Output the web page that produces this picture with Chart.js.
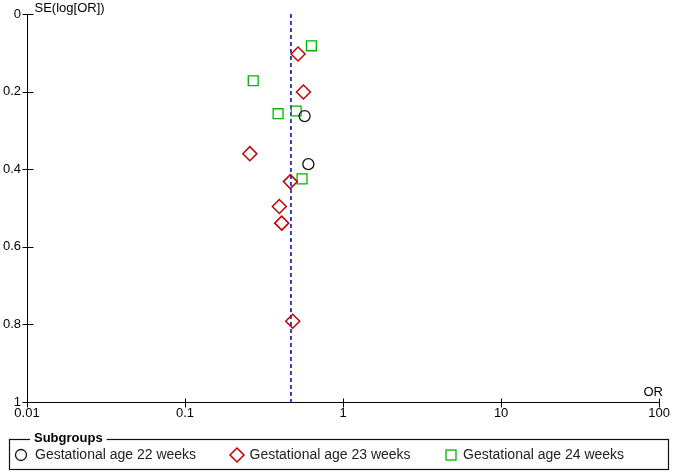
<!DOCTYPE html>
<html>
<head>
<meta charset="utf-8">
<script src="https://cdn.jsdelivr.net/npm/chart.js@4/dist/chart.umd.min.js"></script>
<style>
html,body{margin:0;padding:0;background:#fff;}
#wrap{width:674px;height:472px;}
</style>
</head>
<body>
<div id="wrap"><canvas id="c" width="674" height="472"></canvas></div>
<script>
// ---- data ----
const pooledOR = 0.468;
const seriesNames = ["Gestational age 22 weeks", "Gestational age 23 weeks", "Gestational age 24 weeks"];
const ga22OR = [0.571, 0.603];
const ga22SE = [0.263, 0.387];
const ga23OR = [0.519, 0.561, 0.257, 0.464, 0.395, 0.409, 0.480];
const ga23SE = [0.103, 0.201, 0.360, 0.432, 0.496, 0.539, 0.792];
const ga24OR = [0.630, 0.270, 0.388, 0.505, 0.550];
const ga24SE = [0.082, 0.172, 0.257, 0.250, 0.425];
const xTicks = [0.01, 0.1, 1, 10, 100];
const yTicks = [0, 0.2, 0.4, 0.6, 0.8, 1];
const xTitle = "OR";
const yTitle = "SE(log[OR])";
const legendTitle = "Subgroups";

const colors = ["#111111", "#c00000", "#00b400"];
const pts = (xs, ys) => xs.map((x, i) => ({x: x, y: ys[i]}));
const FONT = "'Liberation Sans', Arial, sans-serif";

const decor = {
  id: 'decor',
  afterDraw(chart) {
    const ctx = chart.ctx;
    const xs = chart.scales.x, ys = chart.scales.y;
    const ax = Math.round(ys.right) + 0.5;
    const ay = Math.round(xs.top) + 0.5;
    ctx.save();
    ctx.strokeStyle = '#000';
    ctx.lineWidth = 1;
    // tick marks crossing the axes
    ctx.beginPath();
    xTicks.forEach(v => {
      const px = Math.round(xs.getPixelForValue(v)) + 0.5;
      ctx.moveTo(px, ay - 4); ctx.lineTo(px, ay + 5);
    });
    yTicks.forEach(v => {
      const py = Math.round(ys.getPixelForValue(v)) + 0.5;
      ctx.moveTo(ax - 5, py); ctx.lineTo(ax + 6, py);
    });
    ctx.stroke();
    // axis titles
    ctx.fillStyle = '#000';
    ctx.font = "13px " + FONT;
    ctx.textBaseline = 'middle';
    ctx.textAlign = 'left';
    ctx.fillText(yTitle, ax + 7, 8);
    ctx.textAlign = 'center';
    ctx.fillText(xTitle, xs.right - 6, ay - 10);

    // legend box
    const bx = 9.5, by = 439.5, bw = 659, bh = 30;
    ctx.lineWidth = 1.2;
    ctx.strokeStyle = '#111';
    ctx.strokeRect(bx, by, bw, bh);
    ctx.font = "bold 13px " + FONT;
    const tw = ctx.measureText(legendTitle).width;
    ctx.fillStyle = '#fff';
    ctx.fillRect(30, by - 3, tw + 8, 6);
    ctx.fillStyle = '#000';
    ctx.textAlign = 'left';
    ctx.fillText(legendTitle, 34, by - 1);

    const cy = 455;
    const items = [
      {mx: 21, tx: 35},
      {mx: 237, tx: 249.5},
      {mx: 451, tx: 463}
    ];
    // circle
    ctx.lineWidth = 1.3;
    ctx.strokeStyle = colors[0];
    ctx.beginPath(); ctx.arc(items[0].mx, cy, 5.5, 0, Math.PI * 2); ctx.stroke();
    // diamond
    ctx.strokeStyle = colors[1];
    ctx.lineWidth = 1.5;
    ctx.beginPath();
    ctx.moveTo(items[1].mx, cy - 7); ctx.lineTo(items[1].mx + 7, cy);
    ctx.lineTo(items[1].mx, cy + 7); ctx.lineTo(items[1].mx - 7, cy);
    ctx.closePath(); ctx.stroke();
    // square
    ctx.strokeStyle = colors[2];
    ctx.lineWidth = 1.3;
    ctx.strokeRect(items[2].mx - 5, cy - 5, 10, 10);

    ctx.font = "14px " + FONT;
    ctx.fillStyle = '#222';
    items.forEach((it, i) => ctx.fillText(seriesNames[i], it.tx, cy + 0.5));
    ctx.restore();
  }
};

new Chart(document.getElementById('c'), {
  type: 'scatter',
  data: {
    datasets: [
      {label: 'pooled', data: [{x: pooledOR, y: 0}, {x: pooledOR, y: 1}], showLine: true,
       borderColor: '#1010c0', borderWidth: 1.6, borderDash: [4, 3], pointRadius: 0, order: 5},
      {label: seriesNames[0], data: pts(ga22OR, ga22SE), pointStyle: 'circle', pointRadius: 5.5,
       borderColor: colors[0], backgroundColor: 'rgba(0,0,0,0)', borderWidth: 1.3},
      {label: seriesNames[1], data: pts(ga23OR, ga23SE), pointStyle: 'rectRot', pointRadius: 7,
       borderColor: colors[1], backgroundColor: 'rgba(0,0,0,0)', borderWidth: 1.5},
      {label: seriesNames[2], data: pts(ga24OR, ga24SE), pointStyle: 'rect', pointRadius: 7,
       borderColor: colors[2], backgroundColor: 'rgba(0,0,0,0)', borderWidth: 1.3}
    ]
  },
  options: {
    responsive: false,
    animation: false,
    devicePixelRatio: 1,
    layout: {padding: {top: 14, right: 14, left: 0, bottom: 0}},
    plugins: {legend: {display: false}, tooltip: {enabled: false}},
    scales: {
      x: {
        type: 'logarithmic', min: 0.01, max: 100,
        afterBuildTicks: s => { s.ticks = xTicks.map(v => ({value: v})); },
        afterFit: s => { s.height = 70; },
        grid: {display: false, drawTicks: false},
        border: {display: true, color: '#000', width: 1},
        ticks: {color: '#000', padding: 4, font: {size: 13, family: FONT}, maxRotation: 0,
                callback: v => String(v)}
      },
      y: {
        type: 'linear', min: 0, max: 1, reverse: true,
        afterBuildTicks: s => { s.ticks = yTicks.map(v => ({value: v})); },
        afterFit: s => { s.width = 27; },
        grid: {display: false, drawTicks: false},
        border: {display: true, color: '#000', width: 1},
        ticks: {color: '#000', padding: 6, font: {size: 13, family: FONT},
                callback: v => String(v)}
      }
    }
  },
  plugins: [decor]
});
</script>
</body>
</html>
